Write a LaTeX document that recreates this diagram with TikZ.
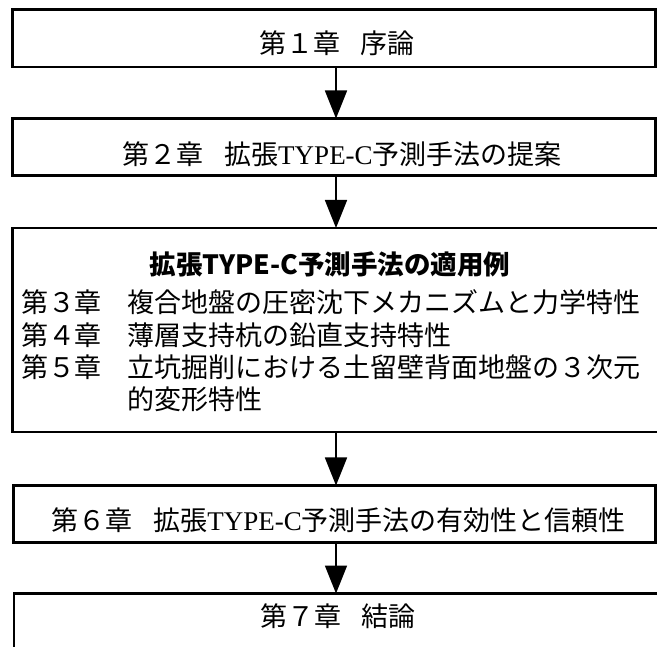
\documentclass[tikz,border=0pt]{standalone}
\usepackage{fontspec}
\setmainfont{Liberation Serif}
\newfontfamily\jp{Noto Sans CJK JP}
\newfontfamily\tm{Liberation Serif}
\usetikzlibrary{arrows.meta}
\begin{document}
\begin{tikzpicture}[x=1pt,y=-1pt,
  frame/.style={draw=black, line width=2.6pt, inner sep=0pt, outer sep=0pt},
  lbl/.style={inner sep=0pt, outer sep=0pt, font=\jp\fontsize{27}{32.4}\selectfont},
  arr/.style={line width=1.8pt, -{Triangle[length=28pt,width=22pt]}}]
\useasboundingbox (0,0) rectangle (657,647);
\fill[white] (0,0) rectangle (657,647);
% boxes
\node[frame, minimum width=643pt, minimum height=57.5pt] (b1) at (334,38.25) {};
\node[frame, minimum width=643pt, minimum height=57pt] (b2) at (334,147) {};
\node[frame, minimum width=647.5pt, minimum height=204pt] (b3) at (336.25,330) {};
\node[frame, minimum width=642pt, minimum height=57pt] (b4) at (334.5,514) {};
\node[frame, minimum width=646pt, minimum height=58.5pt] (b5) at (337,622.75) {};
% texts
\node[lbl, anchor=base] (t1) at (337,53.3) {第１章\hspace{21pt}序論};
\node[lbl, anchor=base] (t2) at (342,164.3) {第２章\hspace{21pt}拡張{\tm TYPE-C}予測手法の提案};
\node[lbl, anchor=base, font=\jp\bfseries\fontsize{26.5}{32.4}\selectfont] (t3) at (330,274.3) {拡張TYPE-C予測手法の適用例};
\node[lbl, anchor=base west] (r3) at (21,312.8) {\makebox[107pt][l]{第３章}複合地盤の圧密沈下メカニズムと力学特性};
\node[lbl, anchor=base west] (r4) at (21,345.2) {\makebox[107pt][l]{第４章}薄層支持杭の鉛直支持特性};
\node[lbl, anchor=base west] (r5) at (21,377.6) {\makebox[107pt][l]{第５章}立坑掘削における土留壁背面地盤の３次元};
\node[lbl, anchor=base west] (r6) at (21,410) {\makebox[107pt][l]{}的変形特性};
\node[lbl, anchor=base] (t4) at (338.7,530.3) {第６章\hspace{21pt}拡張{\tm TYPE-C}予測手法の有効性と信頼性};
\node[lbl, anchor=base] (t5) at (338,626.3) {第７章\hspace{21pt}結論};
% arrows
\coordinate (ax) at (336,0);
\draw[arr] (b1.south -| ax) -- (b2.north -| ax);
\draw[arr] (b2.south -| ax) -- (b3.north -| ax);
\draw[arr] (b3.south -| ax) -- (b4.north -| ax);
\draw[arr] (b4.south -| ax) -- (b5.north -| ax);
\end{tikzpicture}
\end{document}
